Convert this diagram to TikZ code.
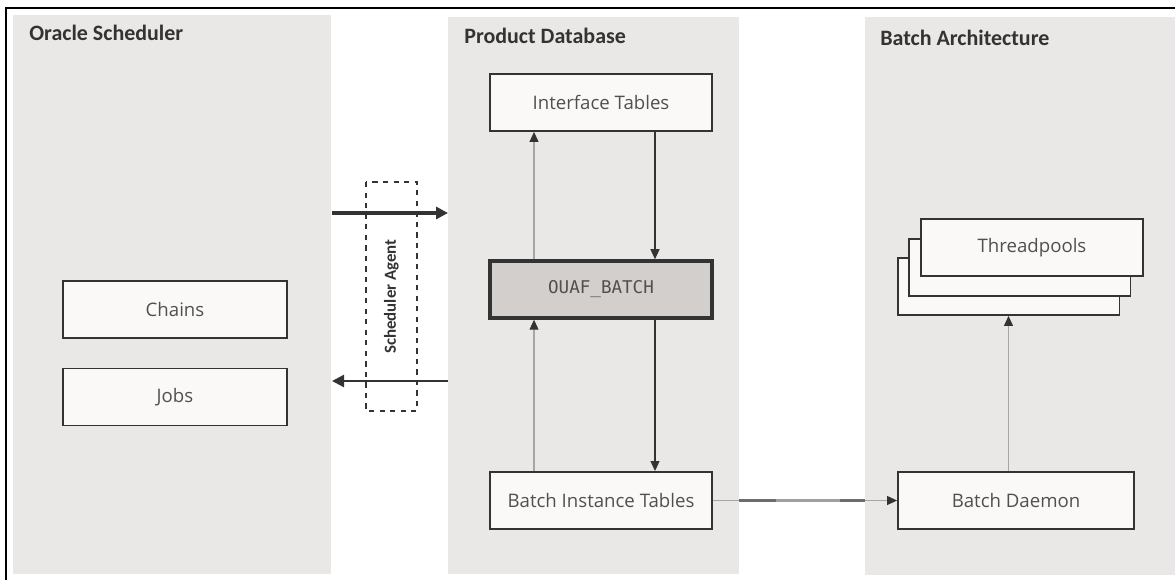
\documentclass[tikz,border=0pt]{standalone}
\usepackage{fontspec}
\setmainfont{Open Sans}
\newfontfamily\titlefont{Carlito}
\newfontfamily\codefont{DejaVu Sans Mono}
\usetikzlibrary{arrows.meta}

\definecolor{panelgray}{HTML}{EAE8E6}
\definecolor{boxfill}{HTML}{FAF9F8}
\definecolor{batchfill}{HTML}{D3CFCC}
\definecolor{edge}{HTML}{333333}
\definecolor{labelgray}{HTML}{505050}

\tikzset{
    panel/.style={fill=panelgray, inner sep=0pt, outer sep=0pt},
    paneltitle/.style={anchor=west, inner sep=0pt, font=\titlefont\bfseries\fontsize{12.5}{14}\selectfont, text=edge},
    box/.style={draw=edge, line width=1.1pt, fill=boxfill, minimum width=4.44cm, minimum height=1.14cm,
        inner sep=0pt, font=\fontsize{10.6}{12}\selectfont, text=labelgray},
    batchbox/.style={box, fill=batchfill, line width=2pt, font=\codefont\fontsize{10}{12}\selectfont},
    agentbox/.style={draw=edge, dashed, line width=0.9pt, minimum width=4.58cm, minimum height=1.02cm,
        inner sep=0pt, font=\titlefont\bfseries\fontsize{9.6}{11}\selectfont, text=edge},
    darkflow/.style={draw=edge, line width=0.6pt, -{Triangle[length=2mm,width=1.8mm]}},
    lightflow/.style={draw=gray!70, line width=0.6pt, -{Triangle[length=2mm,width=1.8mm,color=edge]}},
    agentflow/.style={draw=edge, -{Triangle[length=2.4mm,width=2.4mm]}}
}

\begin{document}
\begin{tikzpicture}[x=0.02cm, y=-0.02cm]

    \useasboundingbox (0,0) rectangle (1175,580);

    % Frame
    \draw[line width=1.4pt] (6,580) -- (6,8) -- (1175,8);

    % Panels
    \node[panel, minimum width=6.36cm, minimum height=11.18cm] (os) at (172,294.5) {};
    \node[panel, minimum width=5.82cm, minimum height=11.14cm] (pd) at (593.5,295.5) {};
    \node[panel, minimum width=6.2cm, minimum height=11.16cm] (ba) at (1020,296) {};

    \node[paneltitle] at (29,33) {Oracle Scheduler};
    \node[paneltitle] at (464,36) {Product Database};
    \node[paneltitle] at (880,38) {Batch Architecture};

    % Oracle Scheduler
    \node[box, minimum width=4.48cm] (chains) at (175,309.5) {Chains};
    \node[box, minimum width=4.48cm] (jobs) at (175,397) {Jobs};

    % Product Database
    \node[box] (it) at (601,102.5) {Interface Tables};
    \node[batchbox] (ouaf) at (601,289.5) {OUAF\_BATCH};
    \node[box] (bit) at (601,500.5) {Batch Instance Tables};

    % Batch Architecture
    \node[box] (tp1) at (1008.5,286.5) {};
    \node[box] (tp2) at (1019.5,267.5) {};
    \node[box] (tp3) at (1032,247.5) {Threadpools};
    \node[box, minimum width=4.72cm] (bd) at (1016,500.5) {Batch Daemon};

    % Scheduler Agent
    \node[agentbox, rotate=90] (sa) at (391.5,296.5) {Scheduler Agent};
    \coordinate (s1) at (332,213);
    \coordinate (p1) at (448,213);
    \coordinate (s2) at (332,381);
    \coordinate (p2) at (448,381);
    \draw[agentflow, line width=2.2pt] (s1) -- (p1);
    \draw[agentflow, line width=1.4pt] (p2) -- (s2);

    % Flows in the database
    \draw[darkflow] ([xshift=1.08cm]it.south) -- ([xshift=1.08cm]ouaf.north);
    \draw[darkflow] ([xshift=1.08cm]ouaf.south) -- ([xshift=1.08cm]bit.north);
    \draw[lightflow] ([xshift=-1.34cm]ouaf.north) -- ([xshift=-1.34cm]it.south);
    \draw[lightflow] ([xshift=-1.34cm]bit.north) -- ([xshift=-1.34cm]ouaf.south);

    % To the batch daemon
    \draw[lightflow] (bit.east) -- (bd.west);
    \draw[draw=gray!85!black, line width=1.5pt] (pd.east |- bit.east) -- (ba.west |- bit.east);
    \draw[draw=gray!75, line width=1.5pt] (776,500.5) -- (840,500.5);
    \draw[lightflow] (bd.north -| tp1.south) -- (tp1.south);

\end{tikzpicture}
\end{document}
